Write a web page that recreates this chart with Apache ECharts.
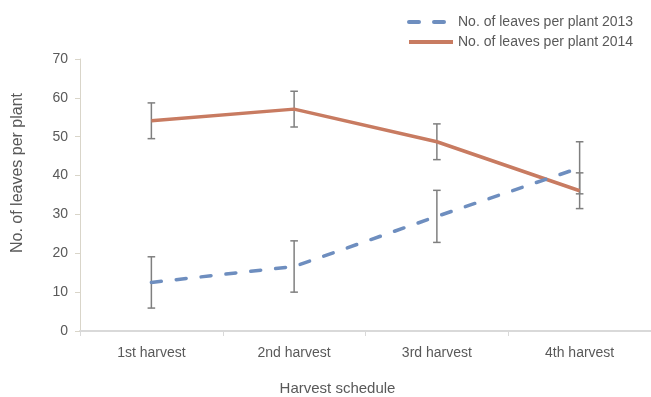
<!DOCTYPE html>
<html>
<head>
<meta charset="utf-8">
<script src="https://cdn.jsdelivr.net/npm/echarts@6/dist/echarts.min.js"></script>
<style>
  html, body { margin: 0; padding: 0; background: #fff; }
  #chart { width: 651px; height: 397px; }
</style>
</head>
<body>
<div id="chart"></div>
<script>
// Harvest categories and leaf counts with their error margins
const categories = ['1st harvest', '2nd harvest', '3rd harvest', '4th harvest'];
const leaves2013 = [12.5, 16.6, 29.5, 42.0];
const err2013 = [6.6, 6.6, 6.7, 6.7];
const leaves2014 = [54.1, 57.1, 48.7, 36.1];
const err2014 = [4.6, 4.6, 4.6, 4.6];
const yTicks = [0, 10, 20, 30, 40, 50, 60, 70];

const FONT = '"Liberation Sans", "Noto Sans", sans-serif';
const TEXT = '#595959';

function errorBars(values, errs) {
  return {
    type: 'custom',
    silent: true,
    z: 1,
    data: values.map((v, i) => [i, v - errs[i], v + errs[i]]),
    renderItem(params, api) {
      const lo = api.coord([api.value(0), api.value(1)]);
      const hi = api.coord([api.value(0), api.value(2)]);
      const w = 3.8;
      const style = { stroke: '#7f7f7f', lineWidth: 1.5, fill: null };
      return {
        type: 'group',
        children: [
          { type: 'line', shape: { x1: hi[0], y1: hi[1], x2: lo[0], y2: lo[1] }, style },
          { type: 'line', shape: { x1: hi[0] - w, y1: hi[1], x2: hi[0] + w, y2: hi[1] }, style },
          { type: 'line', shape: { x1: lo[0] - w, y1: lo[1], x2: lo[0] + w, y2: lo[1] }, style }
        ]
      };
    }
  };
}

const chart = echarts.init(document.getElementById('chart'));
chart.setOption({
  animation: false,
  textStyle: { fontFamily: FONT },
  legend: {
    top: 10,
    left: 402,
    orient: 'vertical',
    itemGap: 6,
    itemWidth: 44,
    itemHeight: 16,
    itemStyle: { opacity: 0 },
    lineStyle: { width: 4 },
    textStyle: { color: TEXT, fontSize: 14, fontFamily: FONT },
    data: ['No. of leaves per plant 2013', 'No. of leaves per plant 2014']
  },
  grid: { left: 80, right: 0, top: 59, bottom: 66, outerBoundsMode: 'none', containLabel: false },
  xAxis: {
    type: 'category',
    data: categories,
    boundaryGap: true,
    name: 'Harvest schedule',
    nameLocation: 'middle',
    nameGap: 50,
    nameTextStyle: { color: TEXT, fontSize: 15, fontFamily: FONT, padding: [0, 56, 0, 0] },
    axisLine: { lineStyle: { color: '#d9d9d9', width: 2 } },
    axisTick: { show: true, length: 5, lineStyle: { color: '#d9d9d9' } },
    axisLabel: { color: TEXT, fontSize: 14, margin: 15, fontFamily: FONT }
  },
  yAxis: {
    type: 'value',
    min: yTicks[0],
    max: yTicks[yTicks.length - 1],
    interval: 10,
    name: 'No. of leaves per plant',
    nameLocation: 'middle',
    nameGap: 54,
    nameTextStyle: { color: TEXT, fontSize: 16, fontFamily: FONT, padding: [0, 0, 0, 44] },
    axisLine: { show: true, lineStyle: { color: '#d9d5c9', width: 1 } },
    axisTick: { show: true, length: 5, lineStyle: { color: '#d9d5c9' } },
    axisLabel: { color: TEXT, fontSize: 14, margin: 12, fontFamily: FONT },
    splitLine: { show: false }
  },
  series: [
    errorBars(leaves2013, err2013),
    errorBars(leaves2014, err2014),
    {
      name: 'No. of leaves per plant 2013',
      type: 'line',
      data: leaves2013,
      z: 3,
      symbol: 'none',
      itemStyle: { color: '#6e8ebf' },
      lineStyle: { color: '#6e8ebf', width: 3.5, type: [10, 15], cap: 'round' }
    },
    {
      name: 'No. of leaves per plant 2014',
      type: 'line',
      data: leaves2014,
      z: 2,
      symbol: 'none',
      itemStyle: { color: '#c87b61' },
      lineStyle: { color: '#c87b61', width: 3.5 }
    }
  ]
});
</script>
</body>
</html>
